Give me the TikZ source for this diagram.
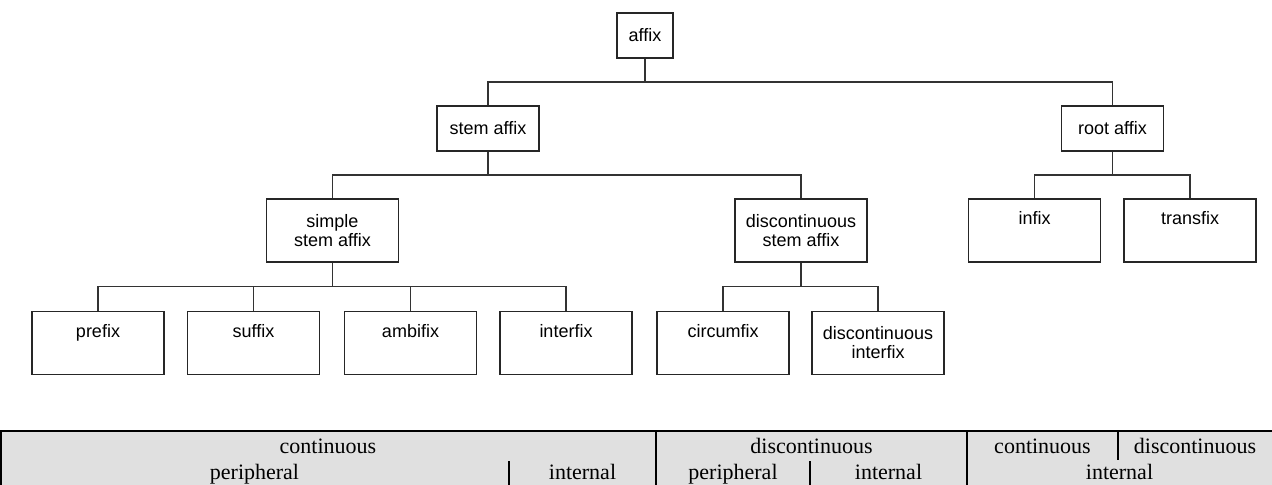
\documentclass[tikz,border=0pt]{standalone}
\usepackage{fontspec}
\setmainfont{Liberation Serif}
\setsansfont{Liberation Sans}
\usetikzlibrary{calc}
\tikzset{
  box/.style={draw=black!85,line width=0.6pt,inner sep=0pt,align=center,
    font=\sffamily\fontsize{9}{9.5}\selectfont},
  topbox/.style={box,minimum width=28pt,minimum height=22.5pt},
  midbox/.style={box,minimum width=51pt,minimum height=22.5pt},
  leafbox/.style={box,minimum width=66pt,minimum height=31.5pt},
  fork/.style={draw=black!80,line width=0.6pt,
    to path={(\tikztostart) |- ($(\tikztostart)!.5!(\tikztotarget)$) -| (\tikztotarget)}},
  cell/.style={font=\fontsize{11}{13}\selectfont,anchor=base,inner sep=0pt},
  tabline/.style={line width=1pt}
}
\begin{document}
\begin{tikzpicture}[x=0.5pt,y=-0.5pt]
\useasboundingbox (0,0) rectangle (1272,484);
\clip (0,0) rectangle (1272,484);
% tree
\node[topbox] (affix) at (645,35.5) {affix};
\node[midbox] (stem) at (488,128.5) {stem affix};
\node[midbox] (root) at (1112.5,128.5) {root affix};
\node[leafbox] (simple) at (332.5,230.5) {simple\\stem affix};
\node[leafbox] (disc) at (801,230.5) {discontinuous\\stem affix};
\node[leafbox] (infix) at (1034.5,230.5) {infix\\ \strut};
\node[leafbox] (transfix) at (1190,230.5) {transfix\\ \strut};
\node[leafbox] (prefix) at (98,343) {prefix\\ \strut};
\node[leafbox] (suffix) at (253.5,343) {suffix\\ \strut};
\node[leafbox] (ambifix) at (410.5,343) {ambifix\\ \strut};
\node[leafbox] (interfix) at (566,343) {interfix\\ \strut};
\node[leafbox] (circumfix) at (723,343) {circumfix\\ \strut};
\node[leafbox] (discinter) at (878,343) {discontinuous\\interfix};
\draw[fork] (affix.south) to (stem.north);
\draw[fork] (affix.south) to (root.north);
\draw[fork] (stem.south) to (simple.north);
\draw[fork] (stem.south) to (disc.north);
\draw[fork] (root.south) to (infix.north);
\draw[fork] (root.south) to (transfix.north);
\foreach \c in {prefix,suffix,ambifix,interfix}
  \draw[fork] (simple.south) to (\c.north);
\draw[fork] (disc.south) to (circumfix.north);
\draw[fork] (disc.south) to (discinter.north);
% table
\fill[black!12] (0,431) rectangle (1272,495);
\draw[tabline] (1,495) -- (1,431) -- (1272,431);
\draw[tabline] (656,431) -- (656,495) (967,431) -- (967,495)
  (1118,431) -- (1118,460)
  (509,461) -- (509,495) (810,461) -- (810,495);
\node[cell] (c1) at (328,453) {continuous};
\node[cell] (d1) at (811.5,453) {discontinuous};
\node[cell] (c2) at (1042.5,453) {continuous};
\node[cell] (d2) at (1195,453) {discontinuous};
\node[cell] (p1) at (254.5,479) {peripheral};
\node[cell] (i1) at (582.5,479) {internal};
\node[cell] (p2) at (733,479) {peripheral};
\node[cell] (i2) at (888.5,479) {internal};
\node[cell] (i3) at (1119.5,479) {internal};
\end{tikzpicture}
\end{document}
